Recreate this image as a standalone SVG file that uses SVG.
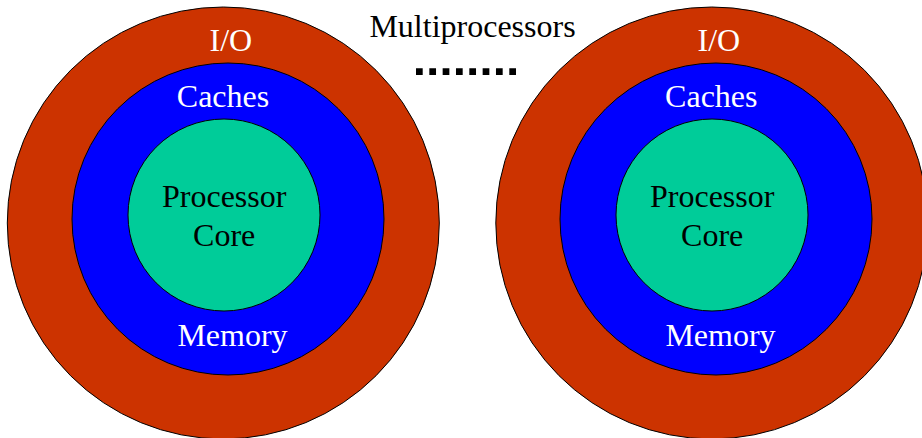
<svg xmlns="http://www.w3.org/2000/svg" width="922" height="438" viewBox="0 0 922 438">
<style>
.io{fill:#CC3300;stroke:#000;stroke-width:1}
.mem{fill:#0000FF;stroke:#000;stroke-width:1}
.core{fill:#00CC99;stroke:#000;stroke-width:1}
text{font-family:"Liberation Serif","Times New Roman",serif;font-size:32px;text-anchor:middle}
.w{fill:#fff}
.b{fill:#000}
</style>
<rect width="922" height="438" fill="#fff"/>
<g id="node-left">
<circle class="io" cx="223.3" cy="223" r="216"/>
<circle class="mem" cx="228" cy="219" r="156"/>
<circle class="core" cx="224" cy="215" r="96"/>
<text class="w" x="230.8" y="50.7">I/O</text>
<text class="w" x="223" y="106.7">Caches</text>
<text class="b" x="224.2" y="207.3">Processor</text>
<text class="b" x="224.2" y="245.7">Core</text>
<text class="w" x="232.5" y="345.7">Memory</text>
</g>
<g id="node-right">
<circle class="io" cx="711.8" cy="223" r="216"/>
<circle class="mem" cx="716" cy="219" r="156"/>
<circle class="core" cx="712" cy="215" r="96"/>
<text class="w" x="718.8" y="50.7">I/O</text>
<text class="w" x="711.3" y="106.7">Caches</text>
<text class="b" x="712.2" y="207.3">Processor</text>
<text class="b" x="712.2" y="245.7">Core</text>
<text class="w" x="720.5" y="345.7">Memory</text>
</g>
<g id="label-multi">
<text class="b" x="472.5" y="36.7">Multiprocessors</text>
</g>
<g id="connectors">
<line x1="416" y1="71.7" x2="516.7" y2="71.7" stroke="#000" stroke-width="6.7" stroke-dasharray="6.7 6.63"/>
</g>
</svg>
